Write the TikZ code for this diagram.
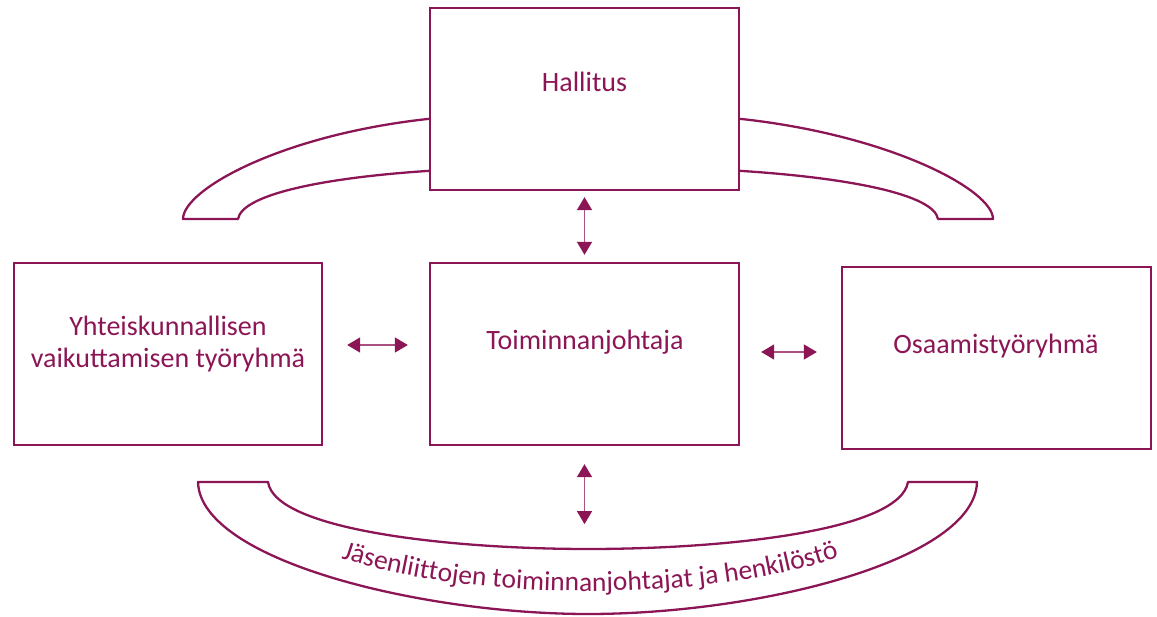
\documentclass[tikz,border=0pt]{standalone}
\usepackage{fontspec}
\setmainfont{Carlito}
\usetikzlibrary{arrows.meta,calc,decorations.text}
\definecolor{mag}{RGB}{140,22,85}
\tikzset{
  box/.style={draw=mag, line width=2.3pt, rectangle, inner sep=0pt, minimum width=309pt, minimum height=182pt},
  lbl/.style={text=mag, font=\fontsize{28}{32}\selectfont, inner sep=0pt, anchor=base, align=center},
  biarrow/.style={draw=mag!75, line width=1.4pt, {Triangle[width=15pt,length=13pt,fill=mag,color=mag]}-{Triangle[width=15pt,length=13pt,fill=mag,color=mag]}},
  band/.style={draw=mag, line width=2.3pt, line join=round}
}
\begin{document}
\begin{tikzpicture}[x=1pt,y=-1pt]
\useasboundingbox (0,0) rectangle (1157,617);
% boxes
\node[box] (hall) at (584.5,99) {};
\node[box] (toim) at (584.5,354) {};
\node[box, minimum width=308pt] (left) at (168,354) {};
\node[box] (right) at (996.5,358) {};
% labels
\node[lbl] (hallT) at (584.5,92) {Hallitus};
\node[lbl] (toimT) at (585,350) {Toiminnanjohtaja};
\node[lbl] (leftT) at (168,368) {Yhteiskunnallisen\\vaikuttamisen työryhmä};
\node[lbl] (rightT) at (996,354) {Osaamistyöryhmä};
% arrows
\draw[biarrow] ($(hall.south)+(0,6)$) -- ($(toim.north)+(0,-7)$);
\draw[biarrow] ($(left.east)+(24,-9)$) -- ($(toim.west)+(-21,-9)$);
\draw[biarrow] ($(toim.east)+(21,-2)$) -- ($(right.west)+(-24,-6)$);
\draw[biarrow] ($(toim.south)+(0,18)$) -- ($(toim.south)+(0,78)$);
% top-left band
\coordinate (tlo) at ($(hall.north west)+(0,112)$);
\coordinate (tli) at ($(hall.north west)+(0,164)$);
\draw[band] (tlo) .. controls (280,135) and (183,190) .. (183,219) -- (238,219) .. controls (242,195) and (320,178) .. (tli);
% top-right band
\coordinate (tro) at ($(hall.north east)+(0,112)$);
\coordinate (tri) at ($(hall.north east)+(0,164)$);
\draw[band] (tro) .. controls (890,135) and (993,190) .. (993,219) -- (938,219) .. controls (934,195) and (852,178) .. (tri);
% bottom band
\draw[band] (198,482) .. controls (200,560) and (420,614) .. (588,614) .. controls (760,614) and (975,560) .. (977,482) -- (908,482) .. controls (900,530) and (730,549) .. (588,549) .. controls (450,549) and (275,530) .. (268,482) -- cycle;
% curved label
\path[decorate, decoration={text along path, text align=center,
  text={|\fontsize{27.5}{32}\selectfont\color{mag}|Jäsenliittojen toiminnanjohtajat ja henkilöstö}}]
  (320,550) .. controls (450,605) and (730,605) .. (860,549);
\end{tikzpicture}
\end{document}
